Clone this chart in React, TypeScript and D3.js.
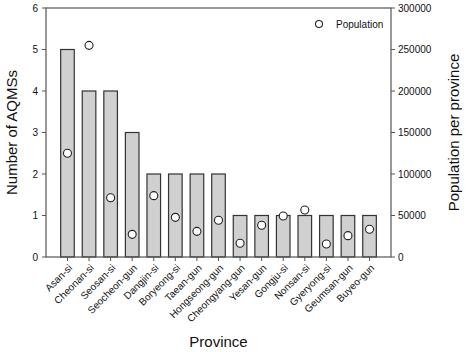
import React from "react";
import * as d3 from "d3";

const provinces = ["Asan-si","Cheonan-si","Seosan-si","Seocheon-gun","Dangjin-si","Boryeong-si","Taean-gun","Hongseong-gun","Cheongyang-gun","Yesan-gun","Gongju-si","Nonsan-si","Gyeryong-si","Geumsan-gun","Buyeo-gun"];
const aqms = [5,4,4,3,2,2,2,2,1,1,1,1,1,1,1];
const population = [125000,255000,71400,27300,73900,47800,30900,44200,16500,38200,49400,56600,15700,25700,33400];
const leftTicks = [0,1,2,3,4,5,6];
const rightTicks = [0,50000,100000,150000,200000,250000,300000];

const W = 467, H = 352;
const L = 46, R = 391, T = 8, B = 257;
const font = "Arial, 'Liberation Sans', sans-serif";

export default function App() {
  const x = d3.scaleBand<string>().domain(provinces).range([L, R]).paddingInner(0.37).paddingOuter(0.68);
  const yL = d3.scaleLinear().domain([0, 6]).range([B, T]);
  const yR = d3.scaleLinear().domain([0, 300000]).range([B, T]);
  const c = (p: string) => (x(p) as number) + x.bandwidth() / 2;
  return (
    <svg width={W} height={H} style={{ position: "absolute", left: 0, top: 0 }} fontFamily={font}>
      <rect x={0} y={0} width={W} height={H} fill="#fff" />
      {provinces.map((p, i) => (
        <rect key={p} x={x(p)} y={yL(aqms[i])} width={x.bandwidth()} height={B - yL(aqms[i])}
          fill="#d0d0d0" stroke="#333" strokeWidth={1.2} />
      ))}
      <rect x={L} y={T} width={R - L} height={B - T} fill="none" stroke="#555" strokeWidth={1.2} />
      {leftTicks.map(t => (
        <g key={t}>
          <line x1={L - 4} x2={L} y1={yL(t)} y2={yL(t)} stroke="#555" />
          <text x={L - 8} y={yL(t)} dy="0.35em" textAnchor="end" fontSize={10} fill="#111">{t}</text>
        </g>
      ))}
      {rightTicks.map(t => (
        <g key={t}>
          <line x1={R} x2={R + 4} y1={yR(t)} y2={yR(t)} stroke="#555" />
          <text x={R + 7} y={yR(t)} dy="0.35em" textAnchor="start" fontSize={10} fill="#111">{t}</text>
        </g>
      ))}
      {provinces.map(p => (
        <g key={p}>
          <line x1={c(p)} x2={c(p)} y1={B} y2={B + 4} stroke="#555" />
          <text transform={`translate(${c(p) + 3},${B + 9}) rotate(-45)`} textAnchor="end" dy="0.35em" fontSize={10} fill="#111">{p}</text>
        </g>
      ))}
      {provinces.map((p, i) => (
        <circle key={p} cx={c(p)} cy={yR(population[i])} r={4} fill="#fff" stroke="#222" strokeWidth={1.1} />
      ))}
      <circle cx={319} cy={24} r={3.5} fill="#fff" stroke="#222" strokeWidth={1.1} />
      <text x={336} y={24} dy="0.35em" fontSize={10} fill="#111">Population</text>
      <text transform={`translate(17,${(T + B) / 2}) rotate(-90)`} textAnchor="middle" fontSize={15} fill="#111">Number of AQMSs</text>
      <text transform={`translate(459,${(T + B) / 2}) rotate(-90)`} textAnchor="middle" fontSize={15} fill="#111">Population per province</text>
      <text x={(L + R) / 2} y={347} textAnchor="middle" fontSize={15} fill="#111">Province</text>
    </svg>
  );
}
